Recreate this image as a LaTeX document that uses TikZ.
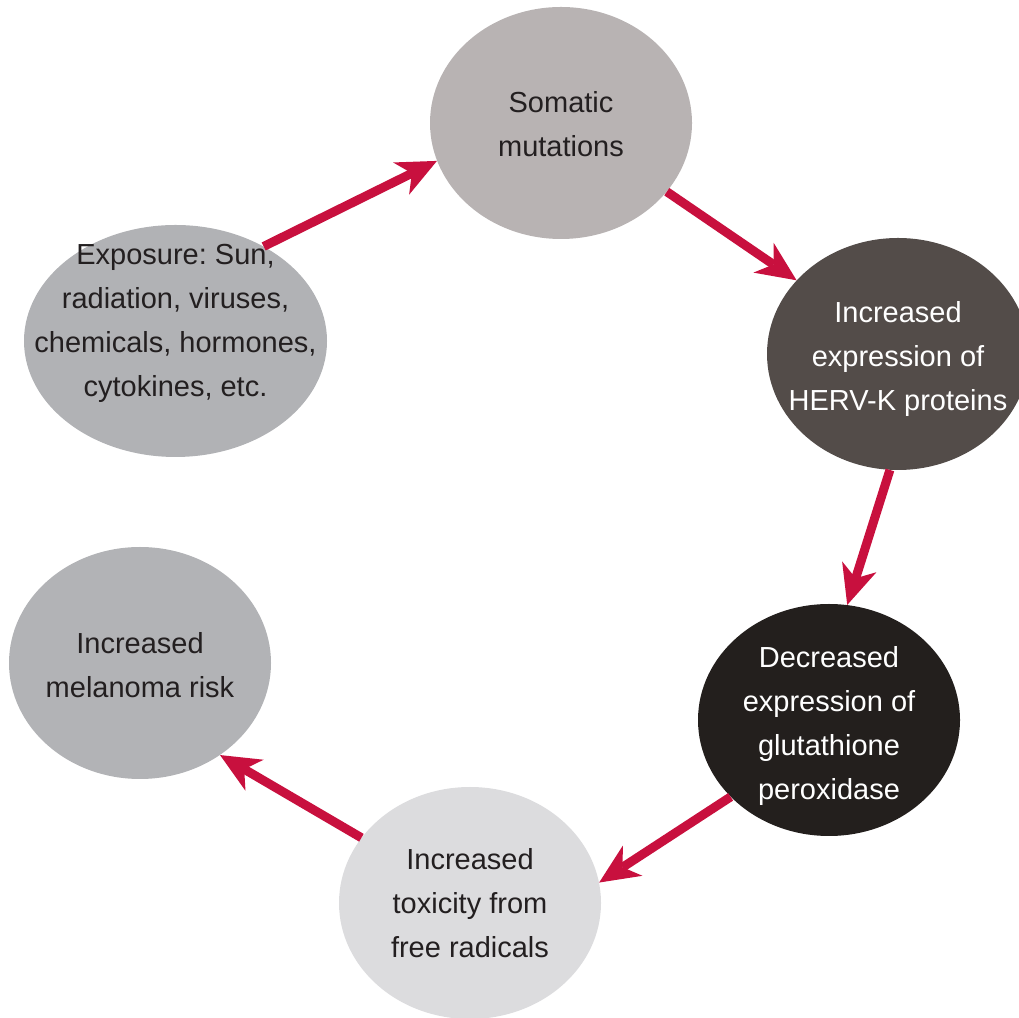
\documentclass[tikz,border=0pt]{standalone}
\usepackage{fontspec}
\setmainfont{Liberation Sans}
\usetikzlibrary{arrows.meta,shapes.geometric}

\definecolor{arrowred}{RGB}{200,16,62}
\definecolor{inkdark}{RGB}{35,31,32}
\definecolor{fillexp}{RGB}{177,178,181}
\definecolor{fillsom}{RGB}{184,179,179}
\definecolor{fillherv}{RGB}{83,76,73}
\definecolor{filldec}{RGB}{35,31,29}
\definecolor{filltox}{RGB}{220,220,222}
\definecolor{fillmel}{RGB}{178,179,182}

\tikzset{
  blob/.style={ellipse, draw=none, inner sep=0pt,
    minimum width=262pt, minimum height=232pt},
  caption/.style={align=center, text=inkdark, inner sep=0pt,
    font=\fontsize{29}{44}\selectfont\frenchspacing},
  flow/.style={draw=arrowred, line width=9pt,
    -{Stealth[length=40pt, width=36pt, inset=12pt, line width=0pt]}},
}

\begin{document}
\begin{tikzpicture}[x=1pt, y=1pt]
  \useasboundingbox (0,0) rectangle (1019,1017);
  \clip (0,0) rectangle (1019,1017);

  % stages of the cycle
  \node[blob, fill=fillexp, minimum width=303pt] (exp) at (175.5,676) {};
  \node[blob, fill=fillsom] (som) at (561,894) {};
  \node[blob, fill=fillherv] (herv) at (898,663) {};
  \node[blob, fill=filldec] (dec) at (829,297) {};
  \node[blob, fill=filltox] (tox) at (470,114) {};
  \node[blob, fill=fillmel] (mel) at (140,354) {};

  % their texts
  \node[caption] (expt) at ([yshift=18pt]exp.center)
    {Exposure: Sun,\\radiation, viruses,\\chemicals, hormones,\\cytokines, etc.};
  \node[caption] (somt) at ([yshift=-1pt]som.center) {Somatic\\mutations};
  \node[caption, text=white] (hervt) at ([yshift=-5pt]herv.center)
    {Increased\\expression of\\HERV-K proteins};
  \node[caption, text=white] (dect) at ([yshift=-6pt]dec.center)
    {Decreased\\expression of\\glutathione\\peroxidase};
  \node[caption] (toxt) at (tox.center)
    {Increased\\toxicity from\\free radicals};
  \node[caption] (melt) at ([yshift=-2pt]mel.center)
    {Increased\\melanoma risk};

  % arrows between stages
  \draw[flow] (exp.47.4) -- (som.197.5);
  \draw[flow] (som.-33.6) -- (herv.144.8);
  \draw[flow] (herv.-94) -- (dec.81);
  \draw[flow] (dec.-142.5) -- (tox.9.2);
  \draw[flow] (tox.149.9) -- (mel.-49.9);
\end{tikzpicture}
\end{document}
